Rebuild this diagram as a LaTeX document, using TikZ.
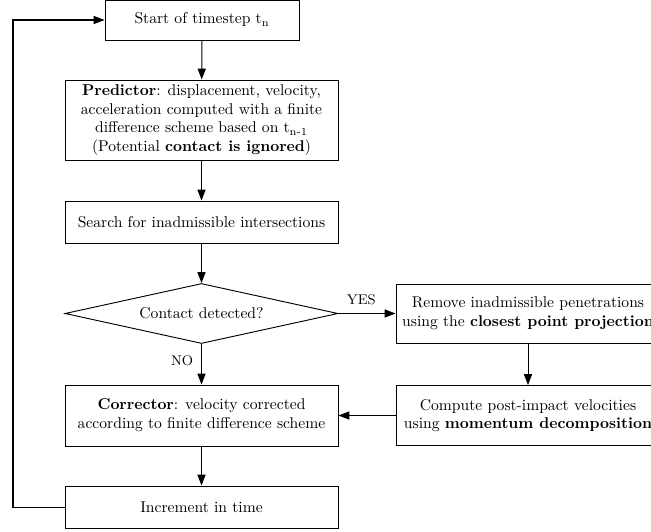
\documentclass[tikz,border=0pt]{standalone}
\usetikzlibrary{shapes.geometric,arrows.meta}
\def\u{0.64pt}
\begin{document}
\begin{tikzpicture}[x=0.64pt,y=-0.64pt,
  every node/.style={font=\normalsize},
  box/.style={draw,line width=0.6pt,align=center,inner sep=0pt,minimum width=273*\u},
  dia/.style={draw,line width=0.6pt,shape=diamond,aspect=4.55,inner sep=0pt,minimum width=273*\u,minimum height=60*\u},
  arr/.style={line width=0.65pt,-{Triangle[length=7pt,width=5.2pt]}},
  lab/.style={font=\small,inner sep=0pt}]
\useasboundingbox (0,0) rectangle (651,531);
\clip (0,0) rectangle (651,531);
\node[box,minimum width=194*\u,minimum height=40*\u] (start) at (202,20) {Start of timestep t\textsubscript{n}};
\node[box,minimum height=80*\u] (pred) at (201.5,120) {\textbf{Predictor}: displacement, velocity,\\acceleration computed with a finite\\difference scheme based on t\textsubscript{n-1}\\(Potential \textbf{contact is ignored})};
\node[box,minimum height=42*\u] (search) at (201.5,222) {Search for inadmissible intersections};
\node[dia] (cont) at (201.5,313.5) {Contact detected?};
\node[box,minimum width=264*\u,minimum height=59*\u] (remove) at (528,313.5) {Remove inadmissible penetrations\\using the \textbf{closest point projection}};
\node[box,minimum height=61*\u] (corr) at (201.5,415.5) {\textbf{Corrector}: velocity corrected\\according to finite difference scheme};
\node[box,minimum width=264*\u,minimum height=60*\u] (comp) at (528,415.5) {Compute post-impact velocities\\using \textbf{momentum decomposition}};
\node[box,minimum height=42*\u] (inc) at (201.5,507) {Increment in time};
\coordinate (loop) at (13,507);
\draw[arr] (start) -- (pred);
\draw[arr] (pred) -- (search);
\draw[arr] (search) -- (cont);
\draw[arr] (cont) -- node[lab,above=5pt,pos=0.4] (yes) {YES} (remove);
\draw[arr] (cont) -- node[lab,left=5pt,pos=0.4] (no) {NO} (corr);
\draw[arr] (remove) -- (comp);
\draw[arr] (comp) -- (corr);
\draw[arr] (corr) -- (inc);
\draw[arr] (inc.west) -- (loop) |- (start.west);
\end{tikzpicture}
\end{document}
